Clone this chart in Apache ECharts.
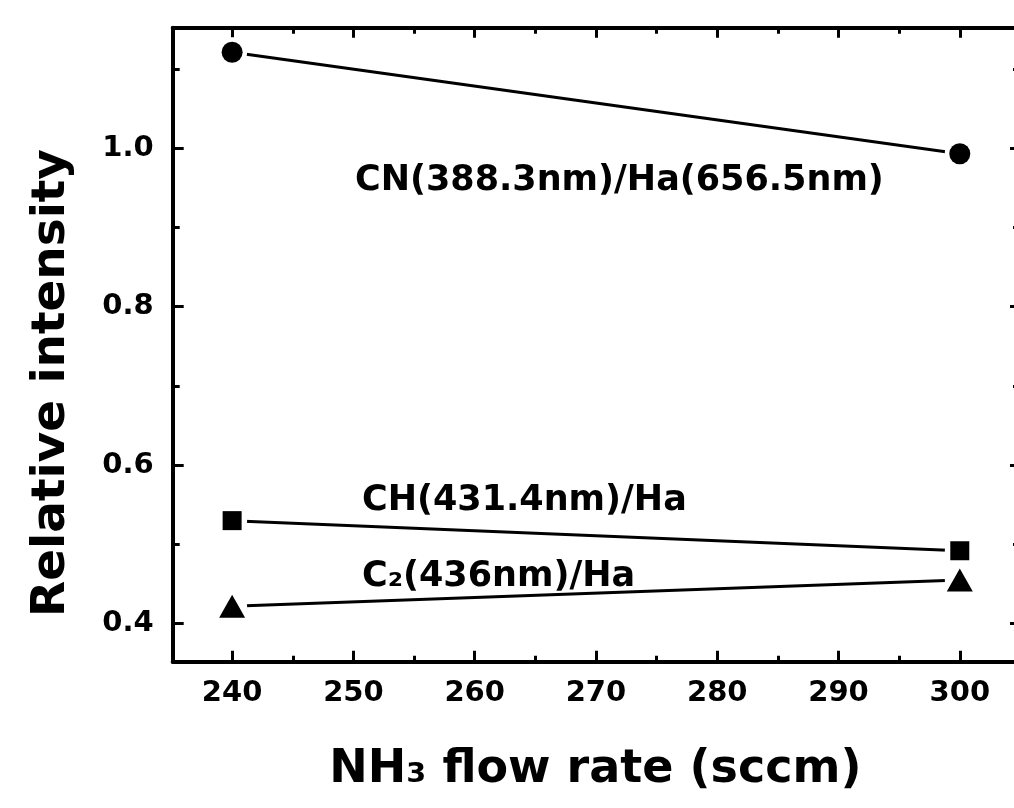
<!DOCTYPE html>
<html>
<head>
<meta charset="utf-8">
<title>Relative intensity vs NH3 flow rate</title>
<script src="https://cdn.jsdelivr.net/npm/echarts@6/dist/echarts.min.js"></script>
<style>
  html, body { margin: 0; padding: 0; background: #fff; }
  #chart { width: 1014px; height: 808px; }
</style>
</head>
<body>
<div id="chart"></div>
<script>
// NH3 flow rate (sccm)
var flowRates = [240, 300];
// relative intensities
var cnHa = [1.121, 0.993];
var chHa = [0.530, 0.492];
var c2Ha = [0.422, 0.455];

// axis ticks and labels
var xMajor = [240, 250, 260, 270, 280, 290, 300];
var xMinor = [245, 255, 265, 275, 285, 295];
var yMajor = [0.4, 0.6, 0.8, 1.0];
var yMinor = [0.5, 0.7, 0.9, 1.1];

var FONT = 'DejaVu Sans';
var X_MIN = 235.1, X_MAX = 304.8;
var Y_MIN = 0.352, Y_MAX = 1.152;

function pairs(ys) {
  return flowRates.map(function (x, i) { return [x, ys[i]]; });
}

var chart = echarts.init(document.getElementById('chart'));

function xAx(pos, ticks, len, opts) {
  return Object.assign({
    type: 'value', position: pos, min: X_MIN, max: X_MAX,
    axisLine: { show: false, onZero: false },
    axisTick: { show: true, inside: true, length: len, customValues: ticks,
      lineStyle: { color: '#000', width: 3 } },
    axisLabel: { show: false },
    splitLine: { show: false }
  }, opts || {});
}
function yAx(pos, ticks, len, opts) {
  return Object.assign({
    type: 'value', position: pos, min: Y_MIN, max: Y_MAX,
    axisLine: { show: false, onZero: false },
    axisTick: { show: true, inside: true, length: len, customValues: ticks,
      lineStyle: { color: '#000', width: 3 } },
    axisLabel: { show: false },
    splitLine: { show: false }
  }, opts || {});
}

var frameLine = { show: true, onZero: false, lineStyle: { color: '#000', width: 4 } };

var option = {
  animation: false,
  backgroundColor: '#fff',
  grid: { left: 172.7, top: 27.7, right: -4, bottom: 146.3, outerBoundsMode: 'none' },
  xAxis: [
    xAx('bottom', xMajor, 11, {
      axisLine: frameLine,
      axisLabel: { show: true, customValues: xMajor, margin: 17,
        color: '#000', fontFamily: FONT, fontWeight: 'bold', fontSize: 29 },
      name: 'NH₃ flow rate (sccm)', nameLocation: 'middle', nameGap: 85,
      nameTextStyle: { color: '#000', fontFamily: FONT, fontWeight: 'bold', fontSize: 46 }
    }),
    xAx('bottom', xMinor, 6),
    xAx('top', xMajor, 10, { axisLine: frameLine }),
    xAx('top', xMinor, 6)
  ],
  yAxis: [
    yAx('left', yMajor, 11, {
      axisLine: frameLine,
      axisLabel: { show: true, customValues: yMajor, margin: 19,
        color: '#000', fontFamily: FONT, fontWeight: 'bold', fontSize: 29,
        formatter: function (v) { return v.toFixed(1); } }
    }),
    yAx('left', yMinor, 7),
    yAx('right', yMajor, 8, { axisLine: frameLine }),
    yAx('right', yMinor, 5)
  ],
  graphic: [
    { type: 'text', x: 52, y: 383, rotation: Math.PI / 2,
      style: { text: 'Relative intensity', fill: '#000', textAlign: 'center', textVerticalAlign: 'middle',
        font: 'bold 47px "DejaVu Sans"' } },
    { type: 'text', x: 355, y: 181,
      style: { text: 'CN(388.3nm)/Ha(656.5nm)', fill: '#000', textAlign: 'left', textVerticalAlign: 'middle',
        font: 'bold 35px "DejaVu Sans"' } },
    { type: 'text', x: 362, y: 501,
      style: { text: 'CH(431.4nm)/Ha', fill: '#000', textAlign: 'left', textVerticalAlign: 'middle',
        font: 'bold 35px "DejaVu Sans"' } },
    { type: 'text', x: 362, y: 577,
      style: { text: 'C₂(436nm)/Ha', fill: '#000', textAlign: 'left', textVerticalAlign: 'middle',
        font: 'bold 35px "DejaVu Sans"' } }
  ],
  series: []
};

// each data set: plain line, white halo so the line stops short of the marker, then the marker
[
  { name: 'CN/Ha', data: cnHa, symbol: 'circle', size: 21 },
  { name: 'CH/Ha', data: chHa, symbol: 'rect', size: 19 },
  { name: 'C2/Ha', data: c2Ha, symbol: 'triangle', size: [26, 23] }
].forEach(function (s) {
  option.series.push({
    name: s.name, type: 'line', data: pairs(s.data), showSymbol: false, symbol: 'none',
    lineStyle: { color: '#000', width: 3 }, z: 2
  });
  option.series.push({
    type: 'scatter', data: pairs(s.data), symbol: 'circle', symbolSize: 30,
    itemStyle: { color: '#fff', opacity: 1 }, z: 3, silent: true
  });
  option.series.push({
    name: s.name, type: 'scatter', data: pairs(s.data), symbol: s.symbol, symbolSize: s.size,
    itemStyle: { color: '#000', opacity: 1 }, z: 4
  });
});

chart.setOption(option);
</script>
</body>
</html>
